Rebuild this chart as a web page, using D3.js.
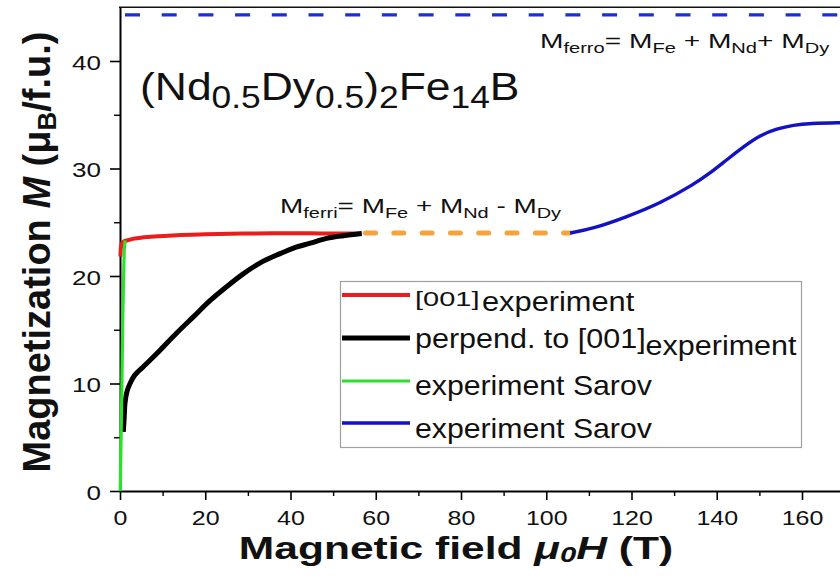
<!DOCTYPE html>
<html>
<head>
<meta charset="utf-8">
<script src="https://cdn.jsdelivr.net/npm/d3@7"></script>
<style>
  body { margin: 0; background: #fff; }
  svg { display: block; font-family: 'Liberation Sans', Arial, sans-serif; }
</style>
</head>
<body>
<svg id="chart" width="840" height="578"></svg>
<script>
let width = 840;
let height = 578;

// values: field in T, magnetization in muB/f.u.
let redField = [0.1, 0.2, 0.4, 0.8, 1.6, 3, 5.5, 9, 13.3, 20, 28.9, 36, 44.6, 50, 56.7];
let redM = [21.8, 22.6, 23.0, 23.2, 23.3, 23.45, 23.6, 23.7, 23.8, 23.88, 23.95, 23.97, 23.97, 23.95, 23.95];

let blackField = [0.78, 1.0, 1.17, 1.6, 2.35, 3.5, 5.47, 9.4, 13.3, 17.2, 21.1, 25.0, 28.9, 32.8, 36.8, 40.7, 44.6, 48.5, 52.4, 56.7];
let blackM = [5.5, 7.0, 8.16, 9.2, 10.0, 10.8, 11.56, 13.1, 14.7, 16.2, 17.7, 19.0, 20.2, 21.2, 21.95, 22.6, 23.05, 23.5, 23.75, 23.95];

let greenField = [0.05, 0.3, 0.45, 0.65, 0.85, 1.0, 1.2];
let greenM = [0, 6, 10, 16, 20, 22.5, 23.3];

let blueField = [105.6, 111, 118.9, 126.7, 134.5, 138.4, 142.3, 146.2, 150.2, 154.1, 158, 161.9, 169, 172];
let blueM = [24.0, 24.4, 25.5, 26.75, 28.5, 29.55, 30.8, 32.0, 33.1, 33.7, 34.05, 34.2, 34.26, 34.27];

// M_ferri plateau (orange dashes) and M_ferro level (blue dashes)
let ferriField = [57.6, 105.6];
let ferriM = 24.0;
let ferroM = 44.3;

let xMajor = [0, 20, 40, 60, 80, 100, 120, 140, 160];
let xMinor = [10, 30, 50, 70, 90, 110, 130, 150, 170];
let yMajor = [0, 10, 20, 30, 40];
let yMinor = [5, 15, 25, 35];

let legendLabels = ['perpend. to [001]', 'experiment Sarov', 'experiment Sarov'];

let svg = d3.select('#chart');

let x = d3.scaleLinear().domain([0, 170]).range([120, 120 + 170 * 4.2625]);
let y = d3.scaleLinear().domain([0, 45]).range([491, 7.25]);

function series(fields, values) {
  return fields.map((f, i) => [f, values[i]]);
}

let line = d3.line()
  .x(d => x(d[0]))
  .y(d => y(d[1]));

// text helper: labels in the figure are drawn wider than their height suggests
function stretchText(px, py, sx, size, weight) {
  return svg.append('text')
    .attr('transform', `translate(${px},${py}) scale(${sx},1)`)
    .attr('font-size', size)
    .attr('font-weight', weight || 'normal')
    .attr('fill', '#111');
}

// parts: [string, 'n' | 's'], sub parts are smaller and lowered
function addParts(text, parts, subSize, shift) {
  let lowered = false;
  parts.forEach(p => {
    let t = text.append('tspan').text(p[0]);
    if (p[1] === 's') {
      t.attr('font-size', subSize);
      if (!lowered) t.attr('dy', shift);
      lowered = true;
    } else if (lowered) {
      t.attr('dy', -shift);
      lowered = false;
    }
  });
  return text;
}

// axes
let xAxis = svg.append('g')
  .attr('transform', `translate(0,${y(0)})`)
  .call(d3.axisBottom(x).tickValues(xMajor).tickSize(9).tickSizeOuter(0))
  .attr('font-family', null)
  .attr('font-size', null);
xAxis.select('.domain').attr('stroke-width', 2);
xAxis.selectAll('.tick line').attr('stroke-width', 1.6);
xAxis.selectAll('.tick text')
  .attr('y', 34.5).attr('dy', 0)
  .attr('font-size', 20).attr('fill', '#111')
  .attr('transform', 'scale(1.25,1)');

svg.append('g')
  .attr('transform', `translate(0,${y(0)})`)
  .call(d3.axisBottom(x).tickValues(xMinor).tickSize(5).tickFormat(''))
  .call(g => g.select('.domain').remove())
  .selectAll('.tick line').attr('stroke-width', 1.4);

let yAxis = svg.append('g')
  .attr('transform', `translate(${x(0)},0)`)
  .call(d3.axisLeft(y).tickValues(yMajor).tickSize(10).tickSizeOuter(0))
  .attr('font-family', null)
  .attr('font-size', null);
yAxis.select('.domain').attr('stroke-width', 2);
yAxis.selectAll('.tick line').attr('stroke-width', 1.6);
yAxis.selectAll('.tick text')
  .attr('x', -15).attr('dy', 8)
  .attr('font-size', 20.5).attr('fill', '#111')
  .attr('transform', 'scale(1.27,1)');

svg.append('g')
  .attr('transform', `translate(${x(0)},0)`)
  .call(d3.axisLeft(y).tickValues(yMinor).tickSize(6).tickFormat(''))
  .call(g => g.select('.domain').remove())
  .selectAll('.tick line').attr('stroke-width', 1.4);

// top frame
svg.append('line')
  .attr('x1', x(0) - 1).attr('x2', width)
  .attr('y1', y(45)).attr('y2', y(45))
  .attr('stroke', '#111').attr('stroke-width', 1.6);

// ferro level
svg.append('path')
  .attr('d', d3.line()([[x(0), y(ferroM)], [width, y(ferroM)]]))
  .attr('fill', 'none')
  .attr('stroke', '#1a30d2')
  .attr('stroke-width', 3.2)
  .attr('stroke-dasharray', '15 21.7')
  .attr('stroke-dashoffset', 31.7);

// ferri plateau
svg.append('path')
  .attr('d', d3.line()(ferriField.map(f => [x(f), y(ferriM)])))
  .attr('fill', 'none')
  .attr('stroke', '#f5a43c')
  .attr('stroke-width', 5)
  .attr('stroke-linecap', 'round')
  .attr('stroke-dasharray', '10 18.3');

let curves = [
  { data: series(redField, redM), color: '#ec1c1c', w: 4, curve: d3.curveMonotoneX },
  { data: series(blackField, blackM), color: '#000000', w: 5, curve: d3.curveCatmullRom.alpha(0.5) },
  { data: series(greenField, greenM), color: '#2ee02e', w: 3.2, curve: d3.curveLinear },
  { data: series(blueField, blueM), color: '#1212c4', w: 3.4, curve: d3.curveBasis }
];

curves.forEach(c => {
  svg.append('path')
    .datum(c.data)
    .attr('d', line.curve(c.curve))
    .attr('fill', 'none')
    .attr('stroke', c.color)
    .attr('stroke-width', c.w)
    .attr('stroke-linejoin', 'round');
});

// legend
svg.append('rect')
  .attr('x', 340.5).attr('y', 281.5)
  .attr('width', 461).attr('height', 166)
  .attr('fill', '#fff')
  .attr('stroke', '#a0a0a0')
  .attr('stroke-width', 1.2);

let legendY = [295, 338, 381, 423];
curves.forEach((c, i) => {
  svg.append('line')
    .attr('x1', 342).attr('x2', 410)
    .attr('y1', legendY[i]).attr('y2', legendY[i])
    .attr('stroke', c.color)
    .attr('stroke-width', c.w);
});

stretchText(415, 306, 1.45, 20).text('[001]');
stretchText(482, 311, 1.1, 28).text('experiment');
addParts(stretchText(415, 348, 1.09, 28), [[legendLabels[0], 'n'], ['experiment', 's']], 28, 7);
stretchText(415, 395, 1.08, 28).text(legendLabels[1]);
stretchText(415, 438, 1.08, 28).text(legendLabels[2]);

// compound
addParts(stretchText(140, 100, 1.14, 39),
  [['(Nd', 'n'], ['0.5', 's'], ['Dy', 'n'], ['0.5', 's'], [')', 'n'], ['2', 's'], ['Fe', 'n'], ['14', 's'], ['B', 'n']],
  31, 8);

// moment formulas
addParts(stretchText(280, 213, 1.33, 21),
  [['M', 'n'], ['ferri', 's'], ['= M', 'n'], ['Fe', 's'], [' + M', 'n'], ['Nd', 's'], [' - M', 'n'], ['Dy', 's']],
  15, 5);
addParts(stretchText(540, 48, 1.34, 21),
  [['M', 'n'], ['ferro', 's'], ['= M', 'n'], ['Fe', 's'], [' + M', 'n'], ['Nd', 's'], ['+ M', 'n'], ['Dy', 's']],
  15, 5);

// axis titles
let xt = stretchText(456, 559, 1.33, 32, 'bold').attr('text-anchor', 'middle');
xt.append('tspan').text('Magnetic field ');
xt.append('tspan').attr('font-style', 'italic').text('\u03bc');
xt.append('tspan').attr('font-style', 'italic').attr('font-size', 22).attr('dy', 3).text('0');
xt.append('tspan').attr('font-style', 'italic').attr('dy', -3).text('H');
xt.append('tspan').text(' (T)');

let yt = svg.append('text')
  .attr('transform', 'translate(50,252) rotate(-90)')
  .attr('text-anchor', 'middle')
  .attr('font-size', 38)
  .attr('font-weight', 'bold')
  .attr('fill', '#111');
yt.append('tspan').text('Magnetization ');
yt.append('tspan').attr('font-style', 'italic').text('M');
yt.append('tspan').text(' (\u03bc');
yt.append('tspan').attr('font-size', 26).attr('dy', 6).text('B');
yt.append('tspan').attr('dy', -6).text('/f.u.)');
</script>
</body>
</html>
